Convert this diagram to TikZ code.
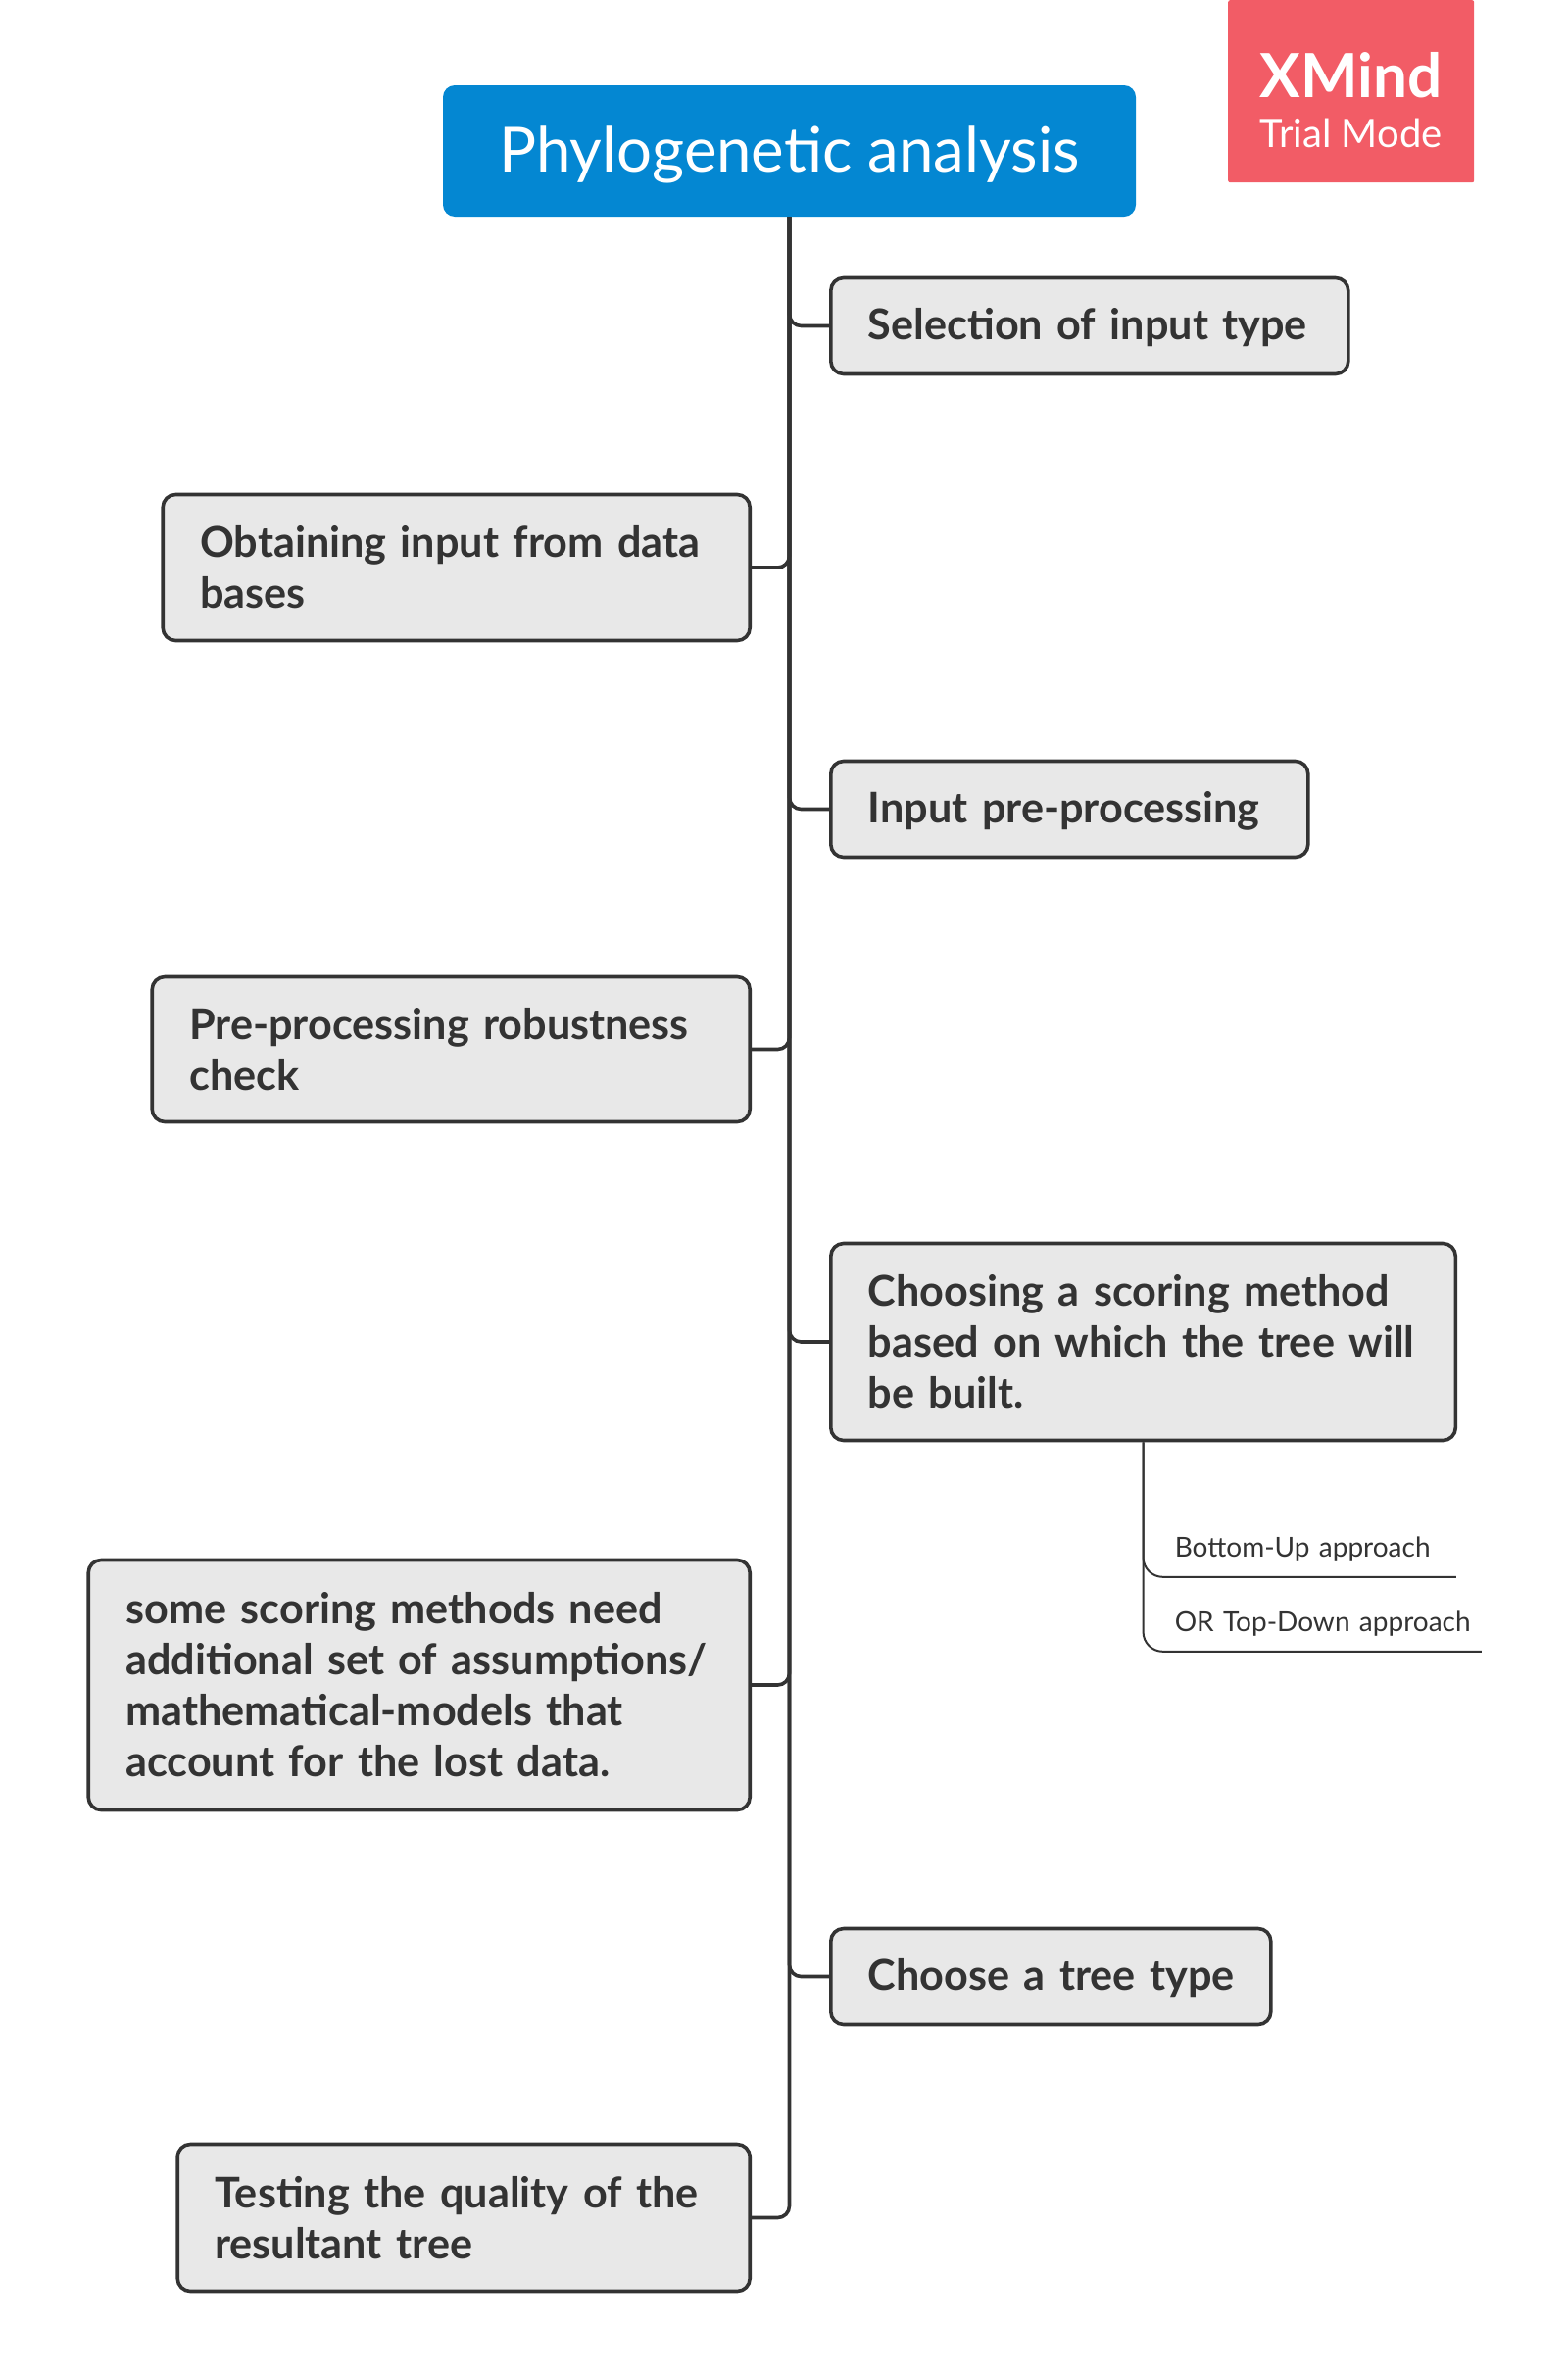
\documentclass[tikz,border=0pt]{standalone}
\usepackage{fontspec}
\setmainfont{Lato}
\usepackage{xcolor}
\definecolor{MapBlue}{HTML}{0487D2}
\definecolor{MapRed}{HTML}{F25C66}
\definecolor{MapInk}{HTML}{333333}
\definecolor{MapGrey}{HTML}{E8E8E8}
\usepackage{tikz}
\usetikzlibrary{positioning}

\begin{document}
\begin{tikzpicture}[
  x=1pt, y=-1pt,
  stepbox/.style={draw=MapInk, fill=MapGrey, line width=3.6pt, rounded corners=13pt,
              align=left, inner xsep=38pt, inner ysep=0pt, text=MapInk,
              font=\fontsize{43.2}{52}\selectfont\bfseries},
  onebox/.style={stepbox, minimum height=98pt, text depth=4pt},
  subnode/.style={inner xsep=15pt, inner ysep=15.5pt, text=MapInk,
              align=left, font=\fontsize{28}{32}\selectfont},
  branch/.style={draw=MapInk, line width=3.6pt, rounded corners=12pt},
  subbranch/.style={draw=MapInk, line width=2pt, rounded corners=20pt},
]
\useasboundingbox (0,0) rectangle (1599,2425);
\node[fill=MapBlue, rounded corners=12pt, text=white, minimum width=707pt, minimum height=134pt,
      text depth=3pt, font=\fontsize{63.5}{70}\selectfont] (root) at (805.5,154) {Phylogenetic analysis};
\node[fill=MapRed, rounded corners=2pt, text=white, anchor=north west, minimum width=251pt,
      minimum height=186pt, align=center, inner sep=0pt] (badge) at (1253,0)
  {\fontsize{62}{62}\selectfont\bfseries\rule{0pt}{64pt}XMind\\[20pt]\fontsize{40}{49}\selectfont Trial Mode};

\node[onebox, text width=452pt, below right=60.5pt and 40.5pt of root.south] (input)
  {Selection of input type};
\node[stepbox, text width=523pt, minimum height=149pt, below left=281.5pt and 38.5pt of root.south] (obtain)
  {Obtaining input from data\\bases};
\node[onebox, text width=411pt, below right=553.5pt and 40.5pt of root.south] (prep)
  {Input pre-processing};
\node[stepbox, text width=534pt, minimum height=148pt, below left=773.5pt and 38.5pt of root.south] (robust)
  {Pre-processing robustness\\check};
\node[stepbox, text width=561.5pt, minimum height=201pt, below right=1045.5pt and 40.5pt of root.south] (scoring)
  {Choosing a scoring method\\based on which the tree will\\be built.};
\node[stepbox, text width=599pt, minimum height=255pt, below left=1368.5pt and 38.5pt of root.south] (models)
  {some scoring methods need\\additional set of assumptions/\\mathematical-models that\\account for the lost data.};
\node[onebox, text width=373pt, below right=1744.5pt and 40.5pt of root.south] (tree)
  {\mbox{Choose a tree type}};
\node[stepbox, text width=508pt, minimum height=150pt, below left=1964.5pt and 38.5pt of root.south] (quality)
  {Testing the quality of the\\resultant tree};

\node[subnode, text width=272pt, above right=-137.5pt and 17pt of scoring.south] (bottomup)
  {Bottom-Up approach};
\node[subnode, text width=298pt, above right=-213.5pt and 17pt of scoring.south] (topdown)
  {\mbox{OR Top-Down approach}};

\foreach \target in {input, prep, scoring, tree}
  \draw[branch] (root.south) |- (\target.west);
\foreach \target in {obtain, robust, models, quality}
  \draw[branch] (root.south) |- (\target.east);
\draw[subbranch] (scoring.south) |- (bottomup.south east);
\draw[subbranch] (scoring.south) |- (topdown.south east);
\end{tikzpicture}
\end{document}
